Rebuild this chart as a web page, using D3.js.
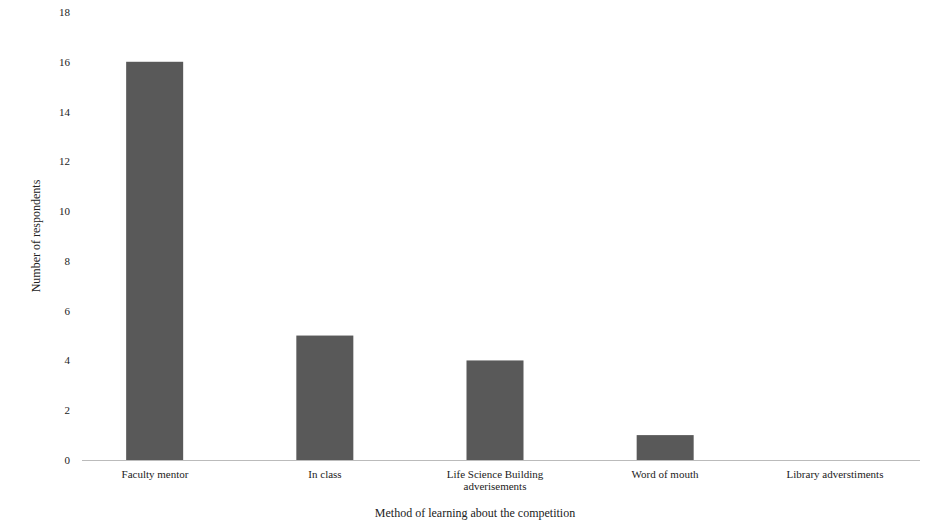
<!DOCTYPE html>
<html><head><meta charset="utf-8">
<script src="https://cdn.jsdelivr.net/npm/d3@7"></script>
<style>body{margin:0;background:#fff;} text{font-family:"Liberation Serif","DejaVu Serif",serif;fill:#222;}</style>
</head><body><svg id="chart" width="935" height="529"></svg>
<script>
const categories = ["Faculty mentor", "In class", "Life Science Building\nadverisements", "Word of mouth", "Library adverstiments"];
const values = [16, 5, 4, 1, 0];
const yTicks = [0, 2, 4, 6, 8, 10, 12, 14, 16, 18];

const svg = d3.select("#chart");
const plotLeft = 70, plotRight = 920, plotTop = 12, plotBottom = 460;

const x = d3.scaleBand().domain(categories).range([plotLeft, plotRight]).paddingInner(0.665).paddingOuter(0.33);
const band = d3.scaleBand().domain(categories).range([plotLeft, plotRight]);
const y = d3.scaleLinear().domain([0, 18]).range([plotBottom, plotTop]);

svg.selectAll(".bar").data(values).join("rect")
  .attr("class", "bar")
  .attr("x", (d, i) => x(categories[i]))
  .attr("y", d => y(d))
  .attr("width", x.bandwidth())
  .attr("height", d => plotBottom - y(d))
  .attr("fill", "#595959");

// y tick labels
svg.selectAll(".ytick").data(yTicks).join("text")
  .attr("class", "ytick")
  .attr("x", plotLeft).attr("y", d => y(d) + 4)
  .attr("text-anchor", "end").style("font-size", "11px")
  .text(d => d);

// x axis line
svg.append("line").attr("x1", plotLeft + 12).attr("x2", plotRight).attr("y1", plotBottom + 0.5).attr("y2", plotBottom + 0.5)
  .attr("stroke", "#bbb");

// x labels
categories.forEach(c => {
  const lines = c.split("\n");
  const cx = band(c) + band.bandwidth() / 2;
  const t = svg.append("text").attr("text-anchor", "middle").style("font-size", "11px")
    .attr("x", cx).attr("y", plotBottom + 18);
  lines.forEach((l, i) => t.append("tspan").attr("x", cx).attr("dy", i ? 12 : 0).text(l));
});

svg.append("text").attr("text-anchor", "middle").style("font-size", "12px")
  .attr("transform", `translate(40,${(plotTop + plotBottom) / 2}) rotate(-90)`).text("Number of respondents");
svg.append("text").attr("text-anchor", "middle").style("font-size", "12px")
  .attr("x", 475).attr("y", 517).text("Method of learning about the competition");
</script></body></html>
